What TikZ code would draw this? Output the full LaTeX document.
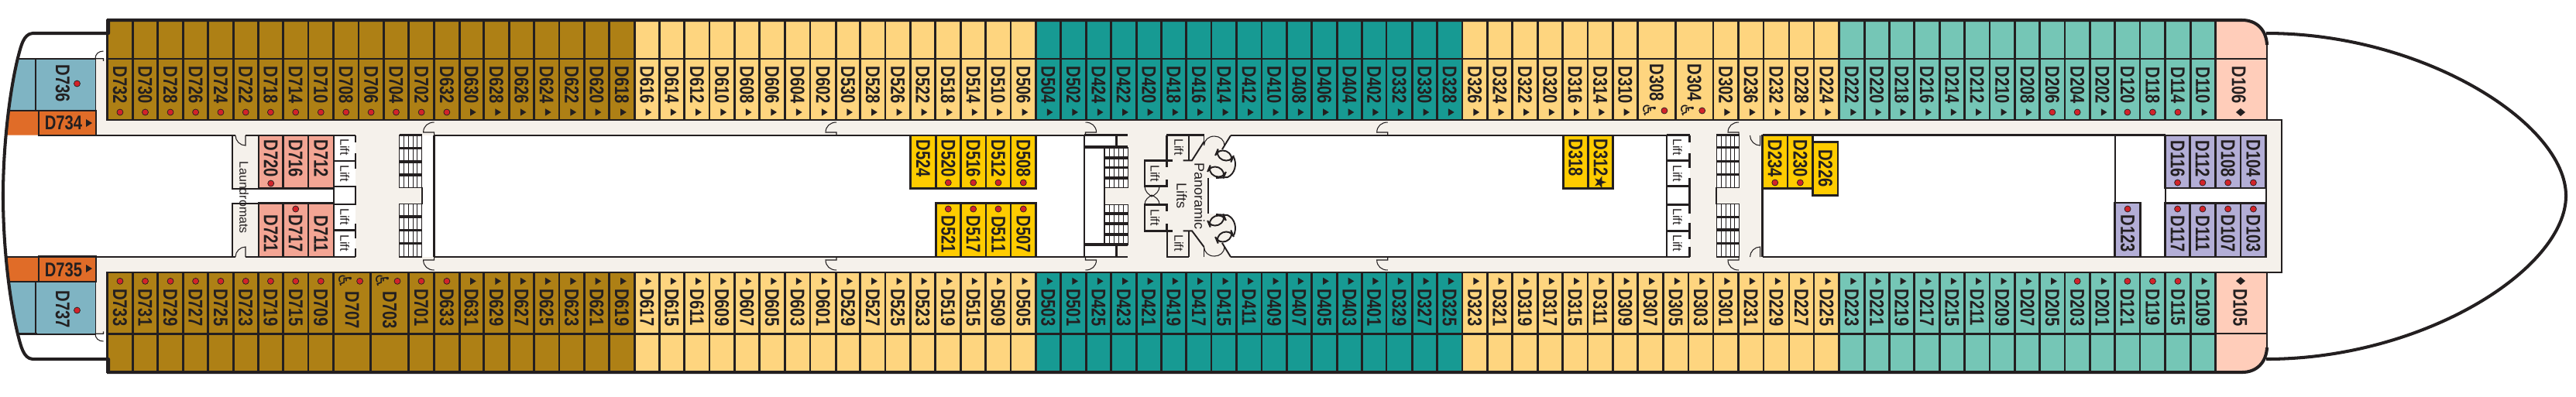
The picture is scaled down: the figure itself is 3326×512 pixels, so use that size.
\documentclass[tikz,border=0pt]{standalone}
\usepackage{fontspec}
\setmainfont{Liberation Sans}
\newfontfamily\cabfont[FakeStretch=0.79]{Liberation Sans}
\newfontfamily\symfont{DejaVu Sans}
\definecolor{ink}{HTML}{231F20}
\definecolor{brownc}{HTML}{AE8015}
\definecolor{yellowc}{HTML}{FED57F}
\definecolor{tealc}{HTML}{179A93}
\definecolor{mintc}{HTML}{75C6B6}
\definecolor{peachc}{HTML}{FFCDBA}
\definecolor{lavc}{HTML}{B3AED6}
\definecolor{bluec}{HTML}{7FB4C3}
\definecolor{orangec}{HTML}{E06C28}
\definecolor{pinkc}{HTML}{F3A594}
\definecolor{goldc}{HTML}{FFCC00}
\definecolor{creamc}{HTML}{F5F1EB}
\definecolor{redc}{HTML}{D2232A}
\tikzset{
  cell/.style={draw=ink,line width=0.75pt},
  hull/.style={draw=ink,line width=1.15pt},
  wall/.style={draw=ink,line width=0.8pt},
  thinwall/.style={draw=ink,line width=0.55pt},
  hair/.style={draw=ink,line width=0.22pt},
  doorline/.style={draw=ink,line width=0.3pt},
  lab/.style={inner sep=0pt,rotate=-90,text=ink,font=\cabfont\bfseries\fontsize{7.28}{7.28}\selectfont},
  labh/.style={inner sep=0pt,text=ink,font=\cabfont\bfseries\fontsize{7.28}{7.28}\selectfont},
  small/.style={inner sep=0pt,rotate=-90,text=ink,font=\fontsize{4.55}{4.55}\selectfont},
  pano/.style={inner sep=0pt,rotate=-90,text=ink,font=\fontsize{5.12}{5.12}\selectfont},
  symb/.style={inner sep=0pt,rotate=-90,text=ink,font=\symfont\fontsize{4.6}{4.6}\selectfont}
}
\newcommand\mkd[2]{\filldraw[fill=redc,draw=ink,line width=0.2pt] (#1,#2) circle (4);}
\newcommand\mkt[2]{\fill[ink] ({#1-1.7},{#2-4.7}) -- ({#1-1.7},{#2+4.7}) -- ({#1+6},#2) -- cycle;}
\newcommand\mkn[2]{}
\newcommand\mkf[2]{\fill[ink] ({#1-6},#2) -- (#1,{#2-5}) -- ({#1+6},#2) -- (#1,{#2+5}) -- cycle;}
\newcommand\mkw[2]{\node[symb] at ({#1-9},#2) {\fontsize{6.6}{6.6}\selectfont ♿}; \mkd{#1+10}{#2}}
\newcommand\mks[2]{\node[symb] at (#1,#2) {\fontsize{6}{6}\selectfont ★};}
% \band{fill}{y top}{y mid}{y bottom}{text y}{marker y}{x1/x2/label/marker,...}
\newcommand\band[7]{%
  \foreach \a/\b/\l/\m in {#7}{%
    \pgfmathsetmacro\cx{(\a+\b)/2}
    \draw[cell,fill=#1] (\a,#2) rectangle (\b,#3);
    \draw[cell,fill=#1] (\a,#3) rectangle (\b,#4);
    \node[lab] (\l) at (\cx,#5) {\l};
    \csname mk\m\endcsname{\cx}{#6}
  }}
% \block{fill}{y top}{y bottom}{text y}{marker y}{x1/x2/label/marker,...}
\newcommand\block[6]{%
  \foreach \a/\b/\l/\m in {#6}{%
    \pgfmathsetmacro\cx{(\a+\b)/2}
    \draw[wall,fill=#1] (\a,#2) rectangle (\b,#3);
    \node[lab] (\l) at (\cx,#4) {\l};
    \csname mk\m\endcsname{\cx}{#5}
  }}
% \flight{x1}{x2}{y1}{y2}{landing list}
\newcommand\flight[5]{%
  \fill[white] (#1,#3) rectangle (#2,#4);
  \foreach \k in {1,...,4}{\draw[hair] ({#1+\k*(#2-#1)/5},#3) -- ({#1+\k*(#2-#1)/5},#4);}
  \draw[hair] (#1,#3) rectangle (#2,#4);
  \foreach \t in {#5}{\draw[draw=ink,line width=0.9pt] (#1,\t) -- (#2,\t);}
}
% corridor door swinging along the corridor
\newcommand\doorc[4]{\begin{scope}[shift={(#1,#2)},xscale=#3,yscale=#4]
  \draw[doorline] (0,0) .. controls (8,0) and (14,5) .. (14,13) -- (0,13) -- (0,17);
  \end{scope}}
% door swinging out of the corridor wall
\newcommand\doorw[4]{\begin{scope}[shift={(#1,#2)},xscale=#3,yscale=#4]
  \draw[doorline] (0,0) -- (0,13) .. controls (-7,13) and (-13,7) .. (-13,0);
  \end{scope}}
\begin{document}
\begin{tikzpicture}[x=0.1mm,y=-0.1mm]
\useasboundingbox (0,0) rectangle (3326,512);
% corridors and lobbies
\fill[creamc] (123,155) rectangle (2946,175);
\fill[creamc] (123,332) rectangle (2946,352);
\fill[creamc] (2926,155) rectangle (2946,352);
\fill[creamc] (123,76) rectangle (138.5,175);
\fill[creamc] (123,332) rectangle (138.5,431);
\fill[creamc] (300.4,175) rectangle (334,243.7);
\fill[creamc] (300.4,262.7) rectangle (334,332);
\fill[creamc] (459,175) rectangle (544.6,332);
\fill[creamc] (2182,175) rectangle (2275.5,332);
\fill[creamc] (1441.6,175) -- (1589,175) -- (1578,193) -- (1595,217) -- (1585,228) -- (1560.3,230) -- (1560.3,276) -- (1585,278) -- (1595,290) -- (1578,314) -- (1589,332) -- (1441.6,332) -- (1441.6,316) -- (1426.3,316) -- (1426.3,190) -- (1441.6,190) -- cycle;
% top band
\band{brownc}{26}{76}{155}{110}{145}{138.5/171.4/D732/d,171.4/203.6/D730/d,203.6/236.5/D728/d,236.5/268.7/D726/d,268.7/301.2/D724/d,301.2/333.3/D722/d,333.3/365.5/D718/d,365.5/398/D714/d,398/430.5/D710/d,430.5/463/D708/d,463/495.2/D706/d,495.2/527.7/D704/d,527.7/560.6/D702/d,560.6/593.2/D632/d,593.2/624.3/D630/t,624.3/657.7/D628/t,657.7/689.3/D626/t,689.3/722/D624/t,722/754.3/D622/t,754.3/786.3/D620/t,786.3/819.3/D618/t}
\band{yellowc}{26}{76}{155}{110}{145}{819.3/851.3/D616/t,851.3/883.7/D614/t,883.7/916/D612/t,916/948.3/D610/t,948.3/980.7/D608/t,980.7/1013.3/D606/t,1013.3/1046/D604/t,1046/1079.3/D602/t,1079.3/1110.6/D530/t,1110.6/1143.1/D528/t,1143.1/1175.3/D526/t,1175.3/1207.4/D522/t,1207.4/1240.4/D518/t,1240.4/1272.5/D514/t,1272.5/1305/D510/t,1305/1337.6/D506/t}
\band{tealc}{26}{76}{155}{110}{145}{1337.6/1369.3/D504/t,1369.3/1402.6/D502/t,1402.6/1434.4/D424/t,1434.4/1467.3/D422/t,1467.3/1499.4/D420/t,1499.4/1531.6/D418/t,1531.6/1564.1/D416/t,1564.1/1596.6/D414/t,1596.6/1628.8/D412/t,1628.8/1661.7/D410/t,1661.7/1693.3/D408/t,1693.3/1726.3/D406/t,1726.3/1758.3/D404/t,1758.3/1790/D402/t,1790/1823.3/D332/t,1823.3/1855.3/D330/t,1855.3/1888/D328/t}
\band{yellowc}{26}{76}{155}{110}{145}{1888/1920.3/D326/t,1920.3/1952.3/D324/t,1952.3/1985.3/D322/t,1985.3/2017.6/D320/t,2017.6/2049.8/D316/t,2049.8/2082.3/D314/t,2082.3/2114.4/D310/t}
\band{yellowc}{26}{76}{155}{107}{143}{2114.4/2163.4/D308/w,2163.4/2212/D304/w}
\band{yellowc}{26}{76}{155}{110}{145}{2212/2244.2/D302/t,2244.2/2277/D236/t,2277/2310/D232/t,2310/2342.1/D228/t,2342.1/2374.7/D224/t}
\band{mintc}{26}{76}{155}{110}{145}{2374.7/2407.2/D222/t,2407.2/2439.3/D220/t,2439.3/2471.5/D218/t,2471.5/2504.4/D216/t,2504.4/2536.5/D214/t,2536.5/2569.1/D212/t,2569.1/2601.4/D210/t,2601.4/2633.7/D208/t,2633.7/2666/D206/d,2666/2698.3/D204/d,2698.3/2730.6/D202/t,2730.6/2763.1/D120/d,2763.1/2795.7/D118/d,2795.7/2828.2/D114/d,2828.2/2860.3/D110/t}
% bottom band
\band{brownc}{481}{431.3}{352}{397.3}{363.3}{138.5/171.4/D733/d,171.4/203.6/D731/d,203.6/236.5/D729/d,236.5/268.7/D727/d,268.7/301.2/D725/d,301.2/333.3/D723/d,333.3/365.5/D719/d,365.5/398/D715/d,398/430.5/D709/d}
\band{brownc}{481}{431.3}{352}{401}{363.3}{430.5/478.7/D707/w,478.7/527.4/D703/w}
\band{brownc}{481}{431.3}{352}{397.3}{363.3}{527.4/560.6/D701/d,560.6/593.2/D633/d,593.2/624.3/D631/t,624.3/657.7/D629/t,657.7/689.3/D627/t,689.3/722/D625/t,722/754.3/D623/t,754.3/786.3/D621/t,786.3/819.3/D619/t}
\band{yellowc}{481}{431.3}{352}{397.3}{363.3}{819.3/851.3/D617/t,851.3/883.7/D615/t,883.7/916/D611/t,916/948.3/D609/t,948.3/980.7/D607/t,980.7/1013.3/D605/t,1013.3/1046/D603/t,1046/1079.3/D601/t,1079.3/1110.6/D529/t,1110.6/1143.1/D527/t,1143.1/1175.3/D525/t,1175.3/1207.4/D523/t,1207.4/1240.4/D519/t,1240.4/1272.5/D515/t,1272.5/1305/D509/t,1305/1337.6/D505/t}
\band{tealc}{481}{431.3}{352}{397.3}{363.3}{1337.6/1369.3/D503/t,1369.3/1402.6/D501/t,1402.6/1434.4/D425/t,1434.4/1467.3/D423/t,1467.3/1499.4/D421/t,1499.4/1531.6/D419/t,1531.6/1564.1/D417/t,1564.1/1596.6/D415/t,1596.6/1628.8/D411/t,1628.8/1661.7/D409/t,1661.7/1693.3/D407/t,1693.3/1726.3/D405/t,1726.3/1758.3/D403/t,1758.3/1790/D401/t,1790/1823.3/D329/t,1823.3/1855.3/D327/t,1855.3/1888/D325/t}
\band{yellowc}{481}{431.3}{352}{397.3}{363.3}{1888/1920.3/D323/t,1920.3/1952.3/D321/t,1952.3/1985.3/D319/t,1985.3/2017.6/D317/t,2017.6/2049.8/D315/t,2049.8/2082.3/D311/t,2082.3/2114.4/D309/t,2114.4/2147.3/D307/t,2147.3/2179.9/D305/t,2179.9/2212/D303/t,2212/2244.2/D301/t,2244.2/2277/D231/t,2277/2310/D229/t,2310/2342.1/D227/t,2342.1/2374.7/D225/t}
\band{mintc}{481}{431.3}{352}{397.3}{363.3}{2374.7/2407.2/D223/t,2407.2/2439.3/D221/t,2439.3/2471.5/D219/t,2471.5/2504.4/D217/t,2504.4/2536.5/D215/t,2536.5/2569.1/D211/t,2569.1/2601.4/D209/t,2601.4/2633.7/D207/t,2633.7/2666/D205/t,2666/2698.3/D203/d,2698.3/2730.6/D201/t,2730.6/2763.1/D121/d,2763.1/2795.7/D119/d,2795.7/2828.2/D115/d,2828.2/2860.3/D109/t}
% peach bow cabins
\fill[peachc] (2860.3,26) -- (2895,26) .. controls (2913,26) and (2926,38) .. (2927,58) -- (2927,155) -- (2860.3,155) -- cycle;
\fill[peachc] (2860.3,481) -- (2895,481) .. controls (2913,481) and (2926,469) .. (2927,449) -- (2927,352) -- (2860.3,352) -- cycle;
\draw[thinwall] (2860.3,76) -- (2927,76);
\draw[thinwall] (2860.3,431.3) -- (2927,431.3);
\draw[cell] (2860.3,26) -- (2860.3,155);
\draw[cell] (2860.3,352) -- (2860.3,481);
\node[lab] (D106) at (2890.6,110) {D106};
\node[lab] (D105) at (2892.5,397.3) {D105};
\mkf{2892.9}{145}
\mkf{2892.9}{363}
% stern cabins
\fill[bluec] (21,76) -- (123,76) -- (123,143) -- (10.7,143) -- cycle;
\fill[bluec] (21,431.7) -- (123,431.7) -- (123,364) -- (10.7,364) -- cycle;
\fill[orangec] (10.7,143) -- (123,143) -- (123,174.7) -- (8.4,174.7) -- cycle;
\fill[orangec] (10.7,364) -- (123,364) -- (123,331.7) -- (8.4,331.7) -- cycle;
\draw[thinwall] (48,76) -- (123.5,76) -- (123.5,143);
\draw[thinwall] (48,431.7) -- (123.5,431.7) -- (123.5,364);
\draw[wall] (21,76) -- (48,76);
\draw[wall] (23,431.7) -- (48,431.7);
\draw[wall] (46,76) -- (46,143);
\draw[wall] (46,431.7) -- (46,364);
\draw[thinwall] (10.7,143) -- (50,143);
\draw[thinwall] (10.7,364) -- (50,364);
\draw[wall] (50,143) rectangle (124,175);
\draw[wall] (50,331.7) rectangle (124,364);
\draw[thinwall] (8.4,331.7) -- (50,331.7);
\node[lab] (D736) at (81,108) {D736};
\node[lab] (D737) at (81,400) {D737};
\mkd{99.5}{108}
\mkd{99.5}{401}
\node[labh] (D734) at (82,159) {D734};
\node[labh] (D735) at (82,348.3) {D735};
\fill[ink] (111,154) -- (111,164) -- (119,159) -- cycle;
\fill[ink] (111,342) -- (111,352) -- (119,347) -- cycle;
% central cabins
\block{pinkc}{175}{243.7}{205}{237}{334/365.5/D720/d,365.5/398/D716/n,398/431/D712/n}
\block{pinkc}{262.7}{332}{302}{270}{334/365.5/D721/n,365.5/398/D717/d,398/431/D711/n}
\block{goldc}{175}{243.3}{205}{236}{1175.7/1208.2/D524/n,1208.2/1240.4/D520/d,1240.4/1272.9/D516/d,1272.9/1305/D512/d,1305/1337.6/D508/d}
\block{goldc}{262.7}{332}{302.7}{270}{1208.2/1240.4/D521/d,1240.4/1272.9/D517/d,1272.9/1305/D511/d,1305/1337.6/D507/d}
\block{goldc}{175}{243.3}{204}{236}{2018.4/2050.5/D318/n,2050.5/2082.7/D312/s}
\block{goldc}{175}{243.3}{205}{236}{2275.5/2308/D234/d,2308/2340.6/D230/d}
\block{goldc}{183.3}{252.3}{217.5}{260}{2340.6/2373/D226/n}
\block{lavc}{175}{243}{205}{236}{2795.7/2827.4/D116/d,2827.4/2860.3/D112/d,2860.3/2892.9/D108/d,2892.9/2925.8/D104/d}
\block{lavc}{262.7}{332}{302}{270}{2795.7/2827.4/D117/d,2827.4/2860.3/D111/d,2860.3/2892.9/D107/d,2892.9/2925.8/D103/d}
\block{lavc}{262}{332}{302}{270}{2730.6/2763.5/D123/d}
% corridor walls
\foreach \p/\q in {123/304,317/334,431/459,560.6/1175.7,1338/1400,1589/2018,2083/2152}{\draw[thinwall] (\p,174.7) -- (\q,174.7);}
\foreach \p/\q in {123/304,317/334,431/459,560.6/1208,1338/1400,1589/2152}{\draw[thinwall] (\p,332) -- (\q,332);}
\foreach \p/\q in {2275.5/2795.7,1400/1456,1506/1554.5,2152/2182,2216/2246}{\draw[wall] (\p,174.7) -- (\q,174.7);}
\foreach \p/\q in {2275.5/2795.7,1400/1456,1506/1535.4,2152/2182,2216/2246}{\draw[wall] (\p,332) -- (\q,332);}
\draw[thinwall] (2860,155) -- (2946,155) -- (2946,352) -- (2860,352);
\draw[thinwall] (2795.7,243) -- (2795.7,262.7);
\draw[thinwall] (2925.8,243) -- (2925.8,262.7);
\draw[thinwall] (2730.6,175) -- (2730.6,332);
% aft lobby
\draw[thinwall] (300.4,175) -- (300.4,243.7) -- (334,243.7);
\draw[thinwall] (300.4,332) -- (300.4,262.7) -- (334,262.7);
\draw[wall] (431,175) -- (431,332);
\foreach \p/\q in {175/184,198/218,240/265,289/308,321/332}{\draw[wall] (459,\p) -- (459,\q);}
\draw[wall] (431,208) -- (459,208);
\draw[wall] (431,297.7) -- (459,297.7);
\draw[thinwall] (431,241) -- (459,241);
\draw[thinwall] (431,264) -- (459,264);
\flight{515.5}{544.6}{174.7}{242.3}{191.7,209,226}
\flight{515.5}{544.6}{263.3}{332}{280,297.3,314.7}
\draw[thinwall] (544.6,242) -- (544.6,264);
\draw[wall] (560.6,175) -- (560.6,332);
\draw[wall] (515.5,174.7) -- (544.6,174.7);
\draw[wall] (515.5,332) -- (544.6,332);
% midship lobby
\draw[wall] (1400,175) -- (1400,332);
\draw[wall] (1441.6,175) -- (1441.6,190);
\draw[wall] (1441.6,332) -- (1441.6,316);
\draw[thinwall] (1426.3,242) -- (1426.3,264.3);
\flight{1426.3}{1456}{190}{242}{204,216.7,230}
\flight{1426.3}{1456}{264.3}{316}{276,289,303}
\draw[line width=1.1pt,ink] (1400,190) -- (1456,190);
\draw[line width=1.1pt,ink] (1400,316) -- (1456,316);
\draw[thinwall] (1426.3,190) -- (1426.3,242);
\draw[thinwall] (1426.3,264.3) -- (1426.3,316);
\draw[wall] (1506.7,175) -- (1506.7,207.3);
\draw[thinwall] (1535.4,175) -- (1535.4,207.3);
\draw[thinwall] (1506.7,332) -- (1506.7,298.3);
\draw[thinwall] (1535.4,332) -- (1535.4,298.3);
\draw[wall] (1514,207.3) -- (1478,207.3) -- (1478,240.7) -- (1506.7,240.7) -- (1506.7,232);
\draw[wall] (1506.7,207.3) -- (1506.7,216);
\draw[wall] (1514,298.3) -- (1478,298.3) -- (1478,264.3) -- (1506.7,264.3) -- (1506.7,273);
\draw[wall] (1506.7,298.3) -- (1506.7,289);
\draw[thinwall] (1527.7,207.3) -- (1539,207.3) -- (1554.5,183);
\draw[thinwall] (1527.7,298.3) -- (1539,298.3) -- (1554.5,319);
\draw[thinwall] (1554.5,175) -- (1554.5,188);
\draw[thinwall] (1554.5,332) -- (1554.5,319);
\draw[thinwall] (1560.3,230) -- (1560.3,276);
\draw[thinwall] (1589,175) -- (1578,193);
\draw[thinwall] (1589,332) -- (1578,314);
\draw[thinwall] (1593,203) .. controls (1597,212) and (1595,224) .. (1585,229) -- (1570,230);
\draw[thinwall] (1593,304) .. controls (1597,295) and (1595,283) .. (1585,278) -- (1570,277);
\begin{scope}[shift={(1581,201)},rotate=-23]\draw[thinwall,fill=creamc,rounded corners=3] (-11,-6) rectangle (11,6);\end{scope}
\begin{scope}[shift={(1571,222)},rotate=-23]\draw[thinwall,fill=creamc,rounded corners=3] (-11,-6) rectangle (11,6);\end{scope}
\begin{scope}[shift={(1581,306)},rotate=23]\draw[thinwall,fill=creamc,rounded corners=3] (-11,-6) rectangle (11,6);\end{scope}
\begin{scope}[shift={(1571,285)},rotate=23]\draw[thinwall,fill=creamc,rounded corners=3] (-11,-6) rectangle (11,6);\end{scope}
\draw[doorline] (1554.5,188) .. controls (1555,181) and (1560,176) .. (1568,176) .. controls (1575,176) and (1581,181) .. (1581,188);
\draw[doorline] (1554.5,319) .. controls (1555,326) and (1560,331) .. (1568,331) .. controls (1575,331) and (1581,326) .. (1581,319);
\draw[doorline] (1478,241) .. controls (1478,247) and (1483,252) .. (1488,254);
\draw[doorline] (1497,241) .. controls (1497,247) and (1492,252) .. (1486,254);
\draw[doorline] (1478,264) .. controls (1478,258) and (1483,254) .. (1488,252);
\draw[doorline] (1497,264) .. controls (1497,258) and (1492,254) .. (1486,252);
% forward lobby
\draw[thinwall] (2152,175) -- (2152,332);
\foreach \p/\q in {175/184,198/217,230/276,288/309,319/332}{\draw[wall] (2181.8,\p) -- (2181.8,\q);}
\foreach \t in {207.3,240.5,264.3,298.3}{\draw[wall] (2152,\t) -- (2181.8,\t);}
\draw[wall] (2152,175) -- (2152,240.5);
\draw[wall] (2152,264.3) -- (2152,332);
\flight{2216.2}{2245.7}{174.7}{242.7}{190.7,208.3,225.7}
\flight{2216.2}{2245.7}{263.3}{332}{280.3,297,314.3}
\draw[wall] (2216.2,174.7) -- (2245.7,174.7);
\draw[wall] (2216.2,332) -- (2245.7,332);
\draw[thinwall] (2216.2,242) -- (2216.2,264);
\draw[wall] (2275.5,175) -- (2275.5,332);
% doors
\doorc{560.6}{158}{-1}{1}\doorc{560.6}{349}{-1}{-1}
\doorc{1080}{158}{-1}{1}\doorc{1080}{349}{-1}{-1}
\doorc{1401.5}{158}{1}{1}\doorc{1401.5}{349}{1}{-1}
\doorc{1791.7}{158}{-1}{1}\doorc{1791.7}{349}{-1}{-1}
\doorc{2245}{158}{-1}{1}\doorc{2245}{349}{-1}{-1}
\doorc{133.5}{66}{-.75}{.75}\doorc{133.5}{441}{-.75}{-.75}
\doorw{317}{175}{1}{1}\doorw{317}{332}{1}{-1}
\doorw{2272.5}{175}{1}{1}\doorw{2272.5}{332}{1}{-1}
% room labels
\node[small] (laundromats) at (315,255) {Laundromats};
\foreach \n/\x/\y in {a/445/190,b/445/224,c/445/280,d/445/314,e/1522/190,f/1491.4/224,g/1491.4/281,h/1522/314,i/2165.7/190,j/2165.7/224,k/2165.7/280,l/2165.7/314}{\node[small] (lift\n) at (\x,\y) {Lift};}
\node[pano] (panoramic) at (1548.8,253) {Panoramic};
\node[pano] (lifts) at (1525.8,253) {Lifts};
% hull and outer band
\draw[hull,line cap=round,line join=round] (140,26) -- (140,43) -- (42,43) .. controls (30,44) and (27,60) .. (23,75) .. controls (12,120) and (4,190) .. (4,253) .. controls (4,317) and (12,387) .. (23,432) .. controls (27,447) and (30,463) .. (42,464) -- (140,464) -- (140,481);
\draw[hull] (2926,43) .. controls (3130,43) and (3313,160) .. (3313,253) .. controls (3313,347) and (3130,464) .. (2926,464);
\draw[hull] (138,26) -- (2895,26) .. controls (2913,26) and (2926,38) .. (2927,58);
\draw[hull] (138,481) -- (2895,481) .. controls (2913,481) and (2926,469) .. (2927,449);
\draw[thinwall] (2927,58) -- (2927,155);
\draw[thinwall] (2927,449) -- (2927,352);
\end{tikzpicture}
\end{document}
